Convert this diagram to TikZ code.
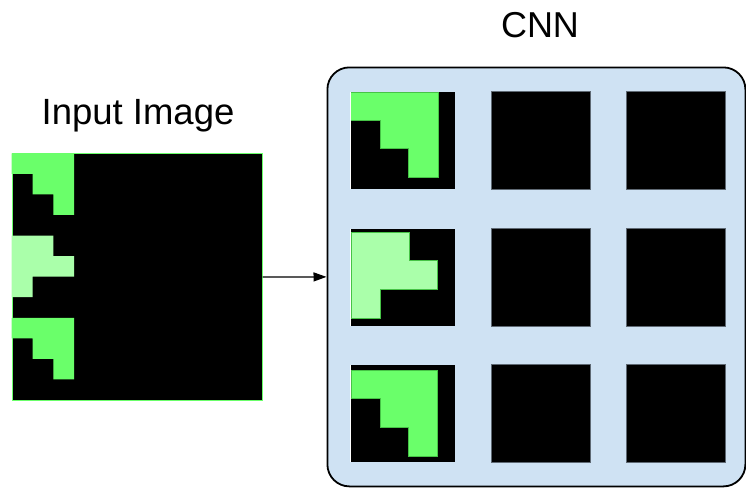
\documentclass[tikz,border=0pt]{standalone}
\usepackage{fontspec}
\setmainfont{Liberation Sans}
\usetikzlibrary{arrows.meta}

\definecolor{brightgreen}{RGB}{106,255,106}
\definecolor{palegreen}{RGB}{170,255,170}
\definecolor{edgegreen}{RGB}{70,195,70}
\definecolor{panelblue}{RGB}{207,226,243}
\definecolor{tileedge}{RGB}{95,105,115}

\tikzset{
  label text/.style={inner sep=0pt, anchor=base},
  tile/.style={fill=black, draw=tileedge, line width=0.6pt, inner sep=0pt,
    minimum width=99pt, minimum height=98pt, anchor=north west},
  zoomtile/.style={fill=black, draw=none, inner sep=0pt,
    minimum width=105pt, minimum height=97pt, anchor=north west},
  patch/.style={draw=edgegreen, line width=0.7pt, line join=miter},
  flow/.style={line width=1.3pt, -{Triangle[length=13pt,width=9pt]}}
}

\begin{document}
\begin{tikzpicture}[x=1pt,y=-1pt]
\useasboundingbox (0,0) rectangle (746,487);

% titles
\node[label text, font=\fontsize{36.5}{44}\selectfont] (lblin) at (138,124.5) {Input Image};
\node[label text, font=\fontsize{36}{43}\selectfont] (lblcnn) at (540,37.7) {CNN};

% input image: 12 x 12 pixel grid
\node[fill=black, draw=brightgreen, line width=0.8pt, inner sep=0pt,
      minimum width=250pt, minimum height=246.7pt, anchor=north west]
      (input) at (11.7,153.3) {};
\begin{scope}[shift={(11.7,153.3)}, x=20.83pt, y=-20.56pt]
  \fill[brightgreen] (0,0) -- (3,0) -- (3,3) -- (2,3) -- (2,2) -- (1,2) -- (1,1) -- (0,1) -- cycle;
  \fill[palegreen]   (0,4) -- (2,4) -- (2,5) -- (3,5) -- (3,6) -- (1,6) -- (1,7) -- (0,7) -- cycle;
  \fill[brightgreen] (0,8) -- (3,8) -- (3,11) -- (2,11) -- (2,10) -- (1,10) -- (1,9) -- (0,9) -- cycle;
\end{scope}

% CNN panel
\node[draw, line width=1.8pt, fill=panelblue, rounded corners=22pt, inner sep=0pt,
      minimum width=418pt, minimum height=419pt, anchor=north west]
      (cnn) at (326.5,66.5) {};

% first column: zoomed views of the input
\node[zoomtile] (t11) at (350,92) {};
\node[zoomtile] (t21) at (350,228.5) {};
\node[zoomtile] (t31) at (350,364.5) {};
\filldraw[fill=brightgreen, patch] (350,92) -- (438,92) -- (438,177) -- (408,177) -- (408,148) -- (380,148) -- (380,120) -- (350,120) -- cycle;
\filldraw[fill=palegreen, patch] (351,232.3) -- (409.3,232.3) -- (409.3,260.7) -- (437.3,260.7) -- (437.3,289.3) -- (380.7,289.3) -- (380.7,318.3) -- (351,318.3) -- cycle;
\filldraw[fill=brightgreen, patch] (351,370) -- (437.3,370) -- (437.3,456) -- (408.3,456) -- (408.3,427.3) -- (380,427.3) -- (380,398.3) -- (351,398.3) -- cycle;
\draw[white, line width=0.9pt] (t11.north west) -- (t11.south west);
\draw[white, line width=0.9pt] (t21.north west) -- (t21.south west);
\draw[white, line width=0.9pt] (t31.north west) -- (t31.south west);

% remaining feature maps
\node[tile] (t12) at (491,91) {};
\node[tile] (t13) at (625.5,91) {};
\node[tile] (t22) at (491,227.5) {};
\node[tile] (t23) at (626,227.5) {};
\node[tile] (t32) at (491,364) {};
\node[tile] (t33) at (626,364) {};

% input fed to the network
\draw[flow] (input.east) -- (cnn.west);
\end{tikzpicture}
\end{document}
